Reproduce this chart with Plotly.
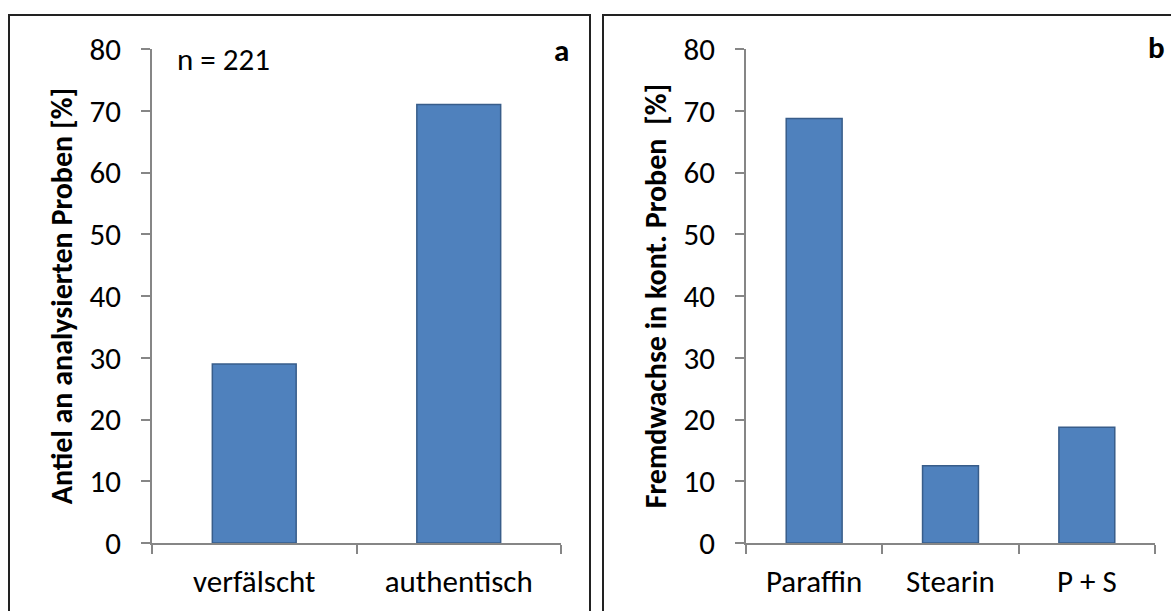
import plotly.graph_objects as go

W, H = 1171, 611

cats_a = ["verfälscht", "authentisch"]
vals_a = [29, 71]
cats_b = ["Paraffin", "Stearin", "P + S"]
vals_b = [68.75, 12.5, 18.75]
ytitle_a = "Antiel an analysierten Proben [%]"
ytitle_b = "Fremdwachse in kont. Proben  [%]"
y_ticks = [0, 10, 20, 30, 40, 50, 60, 70, 80]

FONT = "Carlito, Open Sans, sans-serif"
BAR = "#4F81BD"
BAR_LINE = "#385D8A"
AXIS = "#868686"
TICK_SIZE = 31
TITLE_SIZE = 30

def px(x):
    return x / W

def py(y):
    return 1 - y / H

fig = go.Figure()
fig.add_trace(go.Bar(x=cats_a, y=vals_a, xaxis="x", yaxis="y",
                     marker=dict(color=BAR, line=dict(color=BAR_LINE, width=1.5)),
                     showlegend=False))
fig.add_trace(go.Bar(x=cats_b, y=vals_b, xaxis="x2", yaxis="y2",
                     marker=dict(color=BAR, line=dict(color=BAR_LINE, width=1.5)),
                     showlegend=False))

common_x = dict(type="category", showgrid=False, showline=True, linecolor=AXIS, linewidth=1.5,
                ticks="outside", tickson="boundaries", ticklen=9, tickcolor=AXIS, tickwidth=1.5,
                tickfont=dict(family=FONT, size=TICK_SIZE, color="#000"), zeroline=False,
                ticklabelstandoff=10, automargin=False)
common_y = dict(range=[0, 80], tickvals=y_ticks, showgrid=False, showline=True, linecolor=AXIS,
                linewidth=1.5, ticks="outside", ticklen=9, tickcolor=AXIS, tickwidth=1.5,
                tickfont=dict(family=FONT, size=TICK_SIZE, color="#000"), zeroline=False,
                ticklabelstandoff=14, automargin=False)

fig.update_layout(
    width=W, height=H, margin=dict(l=0, r=0, t=0, b=0, pad=0),
    paper_bgcolor="white", plot_bgcolor="white", bargap=0.59,
    xaxis=dict(domain=[px(152), px(561)], anchor="y", **common_x),
    yaxis=dict(domain=[py(543), py(49)], anchor="x",
               title=dict(text=ytitle_a, font=dict(family=FONT, size=TITLE_SIZE, color="#000", weight="bold"),
                          standoff=8), **common_y),
    xaxis2=dict(domain=[px(746), px(1155)], anchor="y2", **common_x),
    yaxis2=dict(domain=[py(543), py(49)], anchor="x2",
                title=dict(text=ytitle_b, font=dict(family=FONT, size=TITLE_SIZE, color="#000", weight="bold"),
                           standoff=8), **common_y),
)

fig.add_shape(type="rect", xref="paper", yref="paper", x0=px(9), x1=px(590), y0=py(640), y1=py(15),
              line=dict(color="#222", width=2))
fig.add_shape(type="rect", xref="paper", yref="paper", x0=px(603), x1=px(1190), y0=py(640), y1=py(15),
              line=dict(color="#222", width=2))

fig.add_annotation(text="n = 221", xref="paper", yref="paper", x=px(175), y=py(59),
                   xanchor="left", yanchor="middle", showarrow=False,
                   font=dict(family=FONT, size=TICK_SIZE, color="#000"))
fig.add_annotation(text="<b>a</b>", xref="paper", yref="paper", x=px(561), y=py(50),
                   xanchor="center", yanchor="middle", showarrow=False,
                   font=dict(family=FONT, size=TICK_SIZE, color="#000"))
fig.add_annotation(text="<b>b</b>", xref="paper", yref="paper", x=px(1156), y=py(47),
                   xanchor="center", yanchor="middle", showarrow=False,
                   font=dict(family=FONT, size=TICK_SIZE, color="#000"))

fig.write_html("out.html", config={"displayModeBar": False},
               post_script="document.body.style.margin='0';document.body.style.overflow='hidden';")
